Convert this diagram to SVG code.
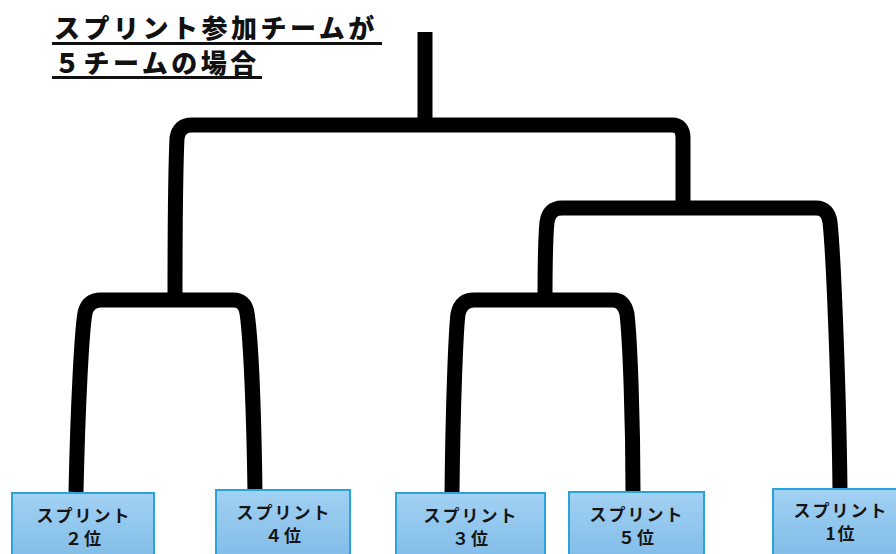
<svg xmlns="http://www.w3.org/2000/svg" width="896" height="554" viewBox="0 0 896 554">
<defs>
<linearGradient id="bg" x1="0" y1="0" x2="0" y2="1">
<stop offset="0" stop-color="#a2d1f3"/>
<stop offset="1" stop-color="#80bbe7"/>
</linearGradient>
<style>
.c{fill:none;stroke:#000;stroke-width:15;stroke-linejoin:round}
.box{fill:url(#bg);stroke:#2aa3da;stroke-width:2}
.t{font-family:"Noto Sans CJK JP","Noto Sans",sans-serif;font-weight:bold;font-size:17px;fill:#151515;text-anchor:middle;letter-spacing:2px}
.h{font-family:"Noto Sans CJK JP","Noto Sans",sans-serif;font-weight:900;font-size:26px;fill:#111;letter-spacing:3.5px}
</style>
</defs>
<rect width="896" height="554" fill="#fff"/>
<g id="title">
<text class="h"><tspan x="54" y="38">スプリント参加チームが</tspan><tspan x="54" y="73">５チームの場合</tspan></text>
<line x1="52" y1="43.5" x2="382" y2="43.5" stroke="#111" stroke-width="3"/>
<line x1="52" y1="77.5" x2="262" y2="77.5" stroke="#111" stroke-width="3"/>
</g>
<g id="connectors">
<path class="c" d="M425,32 V125"/>
<path class="c" d="M175,300 C175,230 176,160 177,138 Q179,125 192,125 H672 Q683,125 683,138 V208"/>
<path class="c" d="M76,492 C78,400 82,330 85,313 Q88,300 101,300 H233 Q245,300 247,313 C251,340 254,420 255,492"/>
<path class="c" d="M545,300 C545,260 546,232 547,222 Q549,208 562,208 H816 Q828,208 830,222 C834,260 839,400 840,490"/>
<path class="c" d="M452,493 C453,400 456,330 458,314 Q461,300 474,300 H613 Q624,300 627,314 C630,340 633,420 633,492"/>
</g>
<g id="n2">
<rect class="box" x="12" y="493" width="142" height="70"/>
<text class="t" x="84" y="522">スプリント</text>
<text class="t" x="84" y="545">２位</text>
</g>
<g id="n4">
<rect class="box" x="216" y="490" width="134" height="70"/>
<text class="t" x="284" y="519">スプリント</text>
<text class="t" x="284" y="542">４位</text>
</g>
<g id="n3">
<rect class="box" x="396" y="493" width="149" height="70"/>
<text class="t" x="471" y="522">スプリント</text>
<text class="t" x="471" y="545">３位</text>
</g>
<g id="n5">
<rect class="box" x="569" y="492" width="135" height="70"/>
<text class="t" x="637" y="521">スプリント</text>
<text class="t" x="637" y="544">５位</text>
</g>
<g id="n1">
<rect class="box" x="773" y="489" width="130" height="70"/>
<text class="t" x="841" y="517">スプリント</text>
<text class="t" x="841" y="540">1位</text>
</g>
</svg>
